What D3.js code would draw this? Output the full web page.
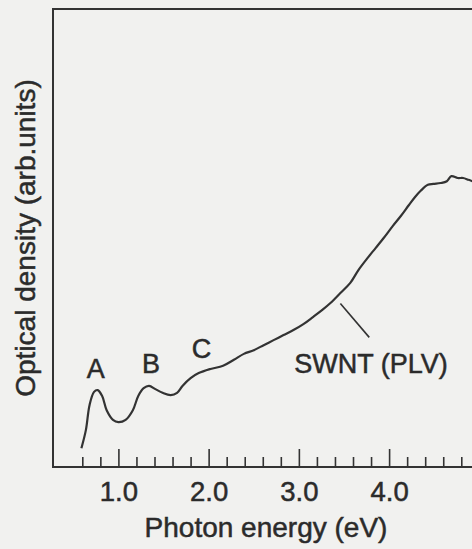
<!DOCTYPE html>
<html>
<head>
<meta charset="utf-8">
<script src="https://cdn.jsdelivr.net/npm/d3@7"></script>
<style>
  html, body { margin: 0; padding: 0; background: #f1f1ef; }
  text { font-family: "Liberation Sans", Arial, sans-serif; fill: #2b2b2b; stroke: #2b2b2b; stroke-width: 0.5px; }
</style>
</head>
<body>
<div id="chart"></div>
<script>
// photon energy (eV) and optical density (arb. units)
const energy = [0.59, 0.64, 0.68, 0.73, 0.77, 0.82, 0.87, 0.94, 1.00, 1.08,
    1.16, 1.22, 1.28, 1.34, 1.41, 1.49, 1.58, 1.65, 1.71, 1.80,
    1.89, 2.02, 2.16, 2.28, 2.39, 2.50, 2.61, 2.72, 2.83, 2.94,
    3.05, 3.16, 3.26, 3.35, 3.46, 3.57, 3.66, 3.76, 3.85, 3.94,
    4.04, 4.13, 4.22, 4.29, 4.35, 4.43, 4.49, 4.57, 4.64, 4.69,
    4.76, 4.82, 4.88, 4.95];
const density = [0.41, 0.81, 1.35, 1.64, 1.68, 1.55, 1.24, 1.03, 0.98, 1.03,
    1.24, 1.55, 1.72, 1.77, 1.70, 1.62, 1.57, 1.62, 1.77, 1.94,
    2.05, 2.14, 2.21, 2.34, 2.47, 2.55, 2.66, 2.77, 2.88, 2.99,
    3.12, 3.28, 3.43, 3.58, 3.80, 4.02, 4.30, 4.56, 4.78, 5.00,
    5.26, 5.48, 5.72, 5.90, 6.03, 6.16, 6.18, 6.20, 6.24, 6.35,
    6.31, 6.31, 6.27, 6.22];

const majorTicks = [1.0, 2.0, 3.0, 4.0];
const minorTicks = [0.6, 0.8, 1.2, 1.4, 1.6, 1.8, 2.2, 2.4, 2.6, 2.8,
    3.2, 3.4, 3.6, 3.8, 4.2, 4.4, 4.6, 4.8];

// peak labels
const peakNames = ["A", "B", "C"];
const peakX = [0.75, 1.36, 1.92];
const peakY = [1.95, 2.06, 2.38];

const seriesName = "SWNT (PLV)";

const width = 472, height = 549;
const marginLeft = 53, marginTop = 9, axisY = 467;

const svg = d3.select("#chart")
    .append("svg")
    .attr("width", width)
    .attr("height", height);

svg.append("rect")
    .attr("width", width)
    .attr("height", height)
    .attr("fill", "#f1f1ef");

const x = d3.scaleLinear()
    .domain([1, 4])
    .range([118.4, 389.1]);

const y = d3.scaleLinear()
    .domain([0, 10])
    .range([axisY, marginTop]);

// frame (runs off the right edge like the scan)
svg.append("path")
    .attr("d", `M${width + 5},${marginTop}H${marginLeft}V${axisY}H${width + 5}`)
    .attr("fill", "none")
    .attr("stroke", "#333")
    .attr("stroke-width", 2);

// minor ticks
svg.append("g")
    .attr("transform", `translate(0,${axisY})`)
    .call(d3.axisBottom(x).tickValues(minorTicks).tickSize(-10).tickFormat(""))
    .call(g => g.select(".domain").remove())
    .call(g => g.selectAll("line").attr("stroke", "#333").attr("stroke-width", 1.6));

// major ticks with labels
svg.append("g")
    .attr("transform", `translate(0,${axisY})`)
    .call(d3.axisBottom(x).tickValues(majorTicks).tickSize(-18).tickPadding(14)
        .tickFormat(d3.format(".1f")))
    .call(g => g.select(".domain").remove())
    .call(g => g.selectAll("line").attr("stroke", "#333").attr("stroke-width", 1.6))
    .call(g => g.selectAll("text")
        .attr("fill", "#2b2b2b")
        .style("font-size", "27.5px")
        .style("font-family", "'Liberation Sans', Arial, sans-serif"));

svg.append("text")
    .attr("x", 266)
    .attr("y", 537)
    .attr("text-anchor", "middle")
    .style("font-size", "28px")
    .text("Photon energy (eV)");

svg.append("text")
    .attr("transform", "translate(35,238) rotate(-90)")
    .attr("text-anchor", "middle")
    .style("font-size", "28px")
    .text("Optical density (arb.units)");

// spectrum
const pts = energy.map((e, i) => [e, density[i]]);
const line = d3.line()
    .x(d => x(d[0]))
    .y(d => y(d[1]))
    .curve(d3.curveCatmullRom);

svg.append("path")
    .datum(pts)
    .attr("d", line)
    .attr("fill", "none")
    .attr("stroke", "#333")
    .attr("stroke-width", 2.2)
    .attr("stroke-linejoin", "round");

svg.selectAll("text.peak")
    .data(peakNames)
    .enter()
    .append("text")
    .attr("class", "peak")
    .attr("x", (d, i) => x(peakX[i]))
    .attr("y", (d, i) => y(peakY[i]))
    .attr("text-anchor", "middle")
    .style("font-size", "27px")
    .text(d => d);

// series label and leader line
svg.append("line")
    .attr("x1", x(3.46)).attr("y1", y(3.57))
    .attr("x2", x(3.78)).attr("y2", y(2.83))
    .attr("stroke", "#333")
    .attr("stroke-width", 1.6);

svg.append("text")
    .attr("x", x(3.80))
    .attr("y", y(2.05))
    .attr("text-anchor", "middle")
    .style("font-size", "27px")
    .text(seriesName);
</script>
</body>
</html>
